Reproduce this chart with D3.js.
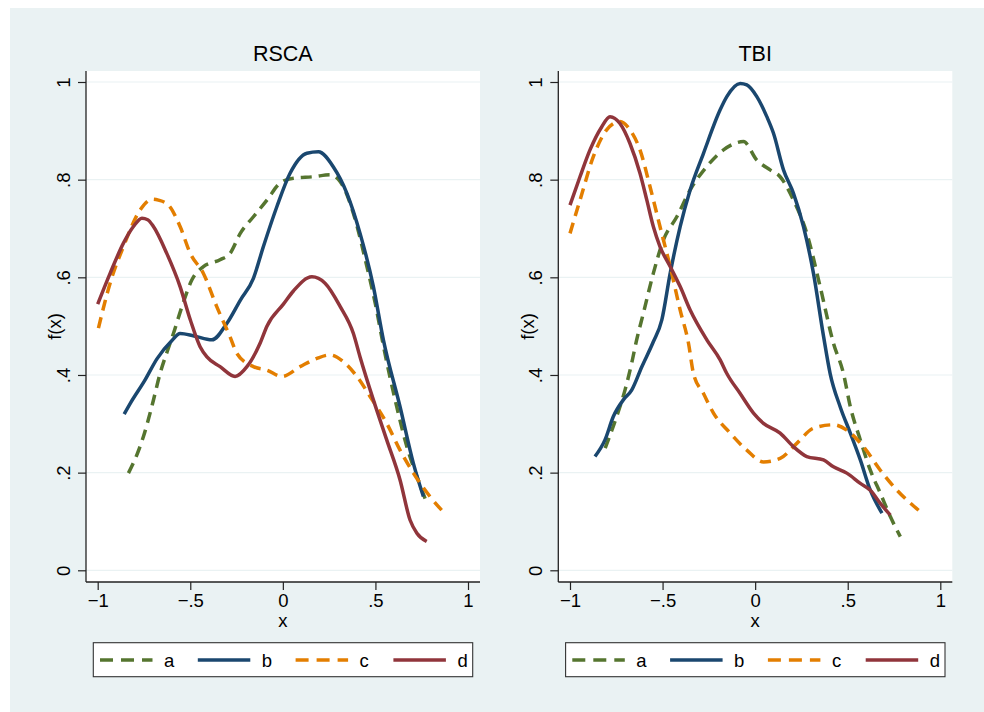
<!DOCTYPE html>
<html>
<head>
<meta charset="utf-8">
<script src="https://cdn.jsdelivr.net/npm/d3@7"></script>
<style>
  body { margin: 0; background: #fff; }
  svg { display: block; }
  text { font-family: "Liberation Sans", Arial, Helvetica, sans-serif; fill: #000; }
</style>
</head>
<body>
<svg width="984" height="712"></svg>
<script>
// kernel density curves, [x, f(x)]
const rscaA = [[-0.834,0.199],[-0.79,0.235],[-0.753,0.274],[-0.708,0.335],[-0.663,0.403],[-0.609,0.465],[-0.591,0.485],[-0.545,0.54],[-0.491,0.595],[-0.429,0.622],[-0.339,0.636],[-0.285,0.649],[-0.23,0.69],[-0.159,0.724],[-0.086,0.758],[-0.015,0.793],[0.057,0.803],[0.165,0.806],[0.255,0.81],[0.31,0.796],[0.381,0.731],[0.454,0.622],[0.5,0.545],[0.543,0.46],[0.615,0.335],[0.67,0.253],[0.724,0.192],[0.768,0.147]];
const rscaB = [[-0.857,0.32],[-0.824,0.342],[-0.744,0.39],[-0.68,0.433],[-0.6,0.47],[-0.555,0.485],[-0.48,0.48],[-0.383,0.472],[-0.302,0.506],[-0.23,0.553],[-0.159,0.598],[-0.105,0.663],[-0.032,0.745],[0.039,0.813],[0.13,0.854],[0.192,0.857],[0.273,0.826],[0.346,0.772],[0.417,0.69],[0.489,0.581],[0.543,0.472],[0.633,0.335],[0.705,0.219],[0.759,0.151]];
const rscaC = [[-0.996,0.496],[-0.933,0.588],[-0.861,0.663],[-0.771,0.738],[-0.705,0.76],[-0.672,0.758],[-0.618,0.748],[-0.555,0.704],[-0.5,0.649],[-0.429,0.608],[-0.357,0.54],[-0.285,0.478],[-0.248,0.444],[-0.159,0.417],[-0.086,0.41],[-0.005,0.397],[0.093,0.417],[0.184,0.434],[0.255,0.441],[0.327,0.427],[0.4,0.397],[0.471,0.356],[0.561,0.301],[0.633,0.246],[0.705,0.199],[0.795,0.151],[0.858,0.123]];
const rscaD = [[-1.0,0.545],[-0.933,0.608],[-0.861,0.67],[-0.807,0.704],[-0.761,0.721],[-0.73,0.718],[-0.699,0.704],[-0.627,0.649],[-0.555,0.581],[-0.5,0.513],[-0.447,0.458],[-0.41,0.437],[-0.339,0.417],[-0.258,0.397],[-0.194,0.417],[-0.123,0.465],[-0.086,0.5],[0.003,0.545],[0.057,0.572],[0.157,0.601],[0.228,0.588],[0.31,0.54],[0.381,0.485],[0.417,0.437],[0.489,0.349],[0.561,0.267],[0.633,0.185],[0.687,0.103],[0.724,0.076],[0.777,0.059]];

const tbiA = [[-0.81,0.25],[-0.748,0.315],[-0.703,0.369],[-0.667,0.424],[-0.64,0.472],[-0.604,0.526],[-0.55,0.608],[-0.496,0.676],[-0.423,0.724],[-0.351,0.779],[-0.261,0.827],[-0.171,0.861],[-0.063,0.878],[0.009,0.84],[0.081,0.82],[0.135,0.806],[0.207,0.758],[0.279,0.69],[0.351,0.581],[0.423,0.465],[0.477,0.403],[0.514,0.335],[0.568,0.267],[0.622,0.205],[0.676,0.158],[0.73,0.11],[0.784,0.069]];
const tbiB = [[-0.865,0.233],[-0.811,0.267],[-0.766,0.315],[-0.712,0.349],[-0.667,0.369],[-0.612,0.417],[-0.55,0.468],[-0.504,0.513],[-0.459,0.608],[-0.405,0.704],[-0.351,0.779],[-0.279,0.854],[-0.189,0.943],[-0.153,0.97],[-0.081,0.997],[-0.045,0.994],[0.009,0.97],[0.063,0.929],[0.099,0.895],[0.153,0.82],[0.207,0.772],[0.261,0.704],[0.315,0.608],[0.369,0.48],[0.405,0.403],[0.459,0.335],[0.514,0.281],[0.568,0.226],[0.622,0.164],[0.685,0.117]];
const tbiC = [[-1.0,0.69],[-0.946,0.758],[-0.874,0.847],[-0.802,0.902],[-0.73,0.919],[-0.676,0.902],[-0.622,0.861],[-0.568,0.786],[-0.514,0.704],[-0.459,0.622],[-0.405,0.533],[-0.36,0.465],[-0.333,0.403],[-0.279,0.362],[-0.225,0.322],[-0.135,0.281],[-0.045,0.246],[0.045,0.222],[0.135,0.229],[0.225,0.26],[0.315,0.291],[0.423,0.298],[0.495,0.287],[0.585,0.253],[0.676,0.205],[0.766,0.164],[0.883,0.123]];
const tbiD = [[-1.0,0.748],[-0.946,0.806],[-0.892,0.861],[-0.829,0.908],[-0.784,0.929],[-0.73,0.915],[-0.676,0.874],[-0.622,0.813],[-0.585,0.758],[-0.55,0.704],[-0.514,0.663],[-0.459,0.622],[-0.405,0.581],[-0.351,0.533],[-0.261,0.472],[-0.189,0.431],[-0.153,0.403],[-0.081,0.362],[-0.009,0.322],[0.045,0.301],[0.135,0.281],[0.207,0.253],[0.279,0.233],[0.369,0.226],[0.423,0.212],[0.495,0.199],[0.568,0.178],[0.622,0.164],[0.676,0.137],[0.73,0.113]];

const panelTitles = ['RSCA', 'TBI'];
const seriesNames = ['a', 'b', 'c', 'd'];
const xTicks = [-1, -0.5, 0, 0.5, 1];
const xTickLabels = ['\u22121', '\u2212.5', '0', '.5', '1'];
const yTicks = [0, 0.2, 0.4, 0.6, 0.8, 1];
const yTickLabels = ['0', '.2', '.4', '.6', '.8', '1'];

const panelSeries = [[rscaA, rscaB, rscaC, rscaD], [tbiA, tbiB, tbiC, tbiD]];

// styling
const colors = ['#55752F', '#1A476F', '#E37E00', '#90353B'];
const dashes = ['11,7', null, '11,7', null];
const panelShift = [0, 472.3];
const plot = { left: 86, right: 480, top: 71, bottom: 582 };

const svg = d3.select('svg');
svg.append('rect').attr('x', 10).attr('y', 8).attr('width', 974).attr('height', 704).attr('fill', '#EAF2F3');

const xScale = d3.scaleLinear().domain([-1, 1]).range([97.7, 468]);
const yScale = d3.scaleLinear().domain([0, 1]).range([570.3, 82]);

const line = d3.line()
  .x(d => xScale(d[0]))
  .y(d => yScale(d[1]))
  .curve(d3.curveMonotoneX);

panelTitles.forEach((title, p) => {
  const g = svg.append('g').attr('transform', `translate(${panelShift[p]},0)`);

  g.append('rect')
    .attr('x', plot.left).attr('y', plot.top)
    .attr('width', plot.right - plot.left).attr('height', plot.bottom - plot.top)
    .attr('fill', '#fff');

  // gridlines
  g.append('g').selectAll('line')
    .data(yTicks)
    .join('line')
    .attr('x1', plot.left).attr('x2', plot.right)
    .attr('y1', d => yScale(d)).attr('y2', d => yScale(d))
    .attr('stroke', '#EAF2F3').attr('stroke-width', 1.2);

  // series
  panelSeries[p].forEach((pts, i) => {
    g.append('path')
      .datum(pts)
      .attr('d', line)
      .attr('fill', 'none')
      .attr('stroke', colors[i])
      .attr('stroke-width', 3.5)
      .attr('stroke-linejoin', 'round')
      .attr('stroke-dasharray', dashes[i]);
  });

  // x axis
  const xAxis = g.append('g')
    .attr('transform', `translate(0,${plot.bottom})`)
    .call(d3.axisBottom(xScale).tickValues(xTicks).tickSize(8).tickFormat((d, i) => xTickLabels[i]));
  xAxis.select('.domain').remove();
  xAxis.selectAll('line').attr('stroke', '#222').attr('stroke-width', 1.2);
  xAxis.selectAll('text').attr('y', 24.7).attr('dy', 0).style('font-size', '18.5px').attr('fill', '#000');

  // y axis
  const yAxis = g.append('g')
    .attr('transform', `translate(${plot.left},0)`)
    .call(d3.axisLeft(yScale).tickValues(yTicks).tickSize(8).tickFormat((d, i) => yTickLabels[i]));
  yAxis.select('.domain').remove();
  yAxis.selectAll('line').attr('stroke', '#222').attr('stroke-width', 1.2);
  yAxis.selectAll('text')
    .attr('x', 0).attr('dy', 0)
    .attr('text-anchor', 'middle')
    .attr('transform', 'translate(-16,0) rotate(-90)')
    .style('font-size', '18.5px').attr('fill', '#000');

  g.append('line')
    .attr('x1', plot.left).attr('x2', plot.left)
    .attr('y1', plot.top).attr('y2', plot.bottom)
    .attr('stroke', '#222').attr('stroke-width', 1.3);
  g.append('line')
    .attr('x1', plot.left).attr('x2', plot.right)
    .attr('y1', plot.bottom).attr('y2', plot.bottom)
    .attr('stroke', '#222').attr('stroke-width', 1.3);

  // titles
  g.append('text')
    .attr('x', xScale(0)).attr('y', 61)
    .attr('text-anchor', 'middle')
    .style('font-size', '21.5px')
    .text(title);

  g.append('text')
    .attr('x', xScale(0)).attr('y', 627)
    .attr('text-anchor', 'middle')
    .style('font-size', '18.5px')
    .text('x');

  g.append('text')
    .attr('transform', `translate(61.3,${(plot.top + plot.bottom) / 2}) rotate(-90)`)
    .attr('text-anchor', 'middle')
    .style('font-size', '18.5px')
    .text('f(x)');

  // legend
  const leg = g.append('g');
  leg.append('rect')
    .attr('x', 93.3).attr('y', 642.7)
    .attr('width', 379.4).attr('height', 34)
    .attr('fill', '#fff').attr('stroke', '#333').attr('stroke-width', 1.1);

  const items = leg.selectAll('g.item')
    .data(seriesNames)
    .join('g')
    .attr('class', 'item')
    .attr('transform', (d, i) => `translate(${100 + i * 97.8},660)`);

  items.append('line')
    .attr('x1', 0).attr('x2', 52.5)
    .attr('y1', 0).attr('y2', 0)
    .attr('stroke', (d, i) => colors[i])
    .attr('stroke-width', 3.5)
    .attr('stroke-dasharray', (d, i) => dashes[i] ? '13,8' : null);

  items.append('text')
    .attr('x', 64).attr('y', 6.8)
    .style('font-size', '18.5px')
    .text(d => d);
});
</script>
</body>
</html>
